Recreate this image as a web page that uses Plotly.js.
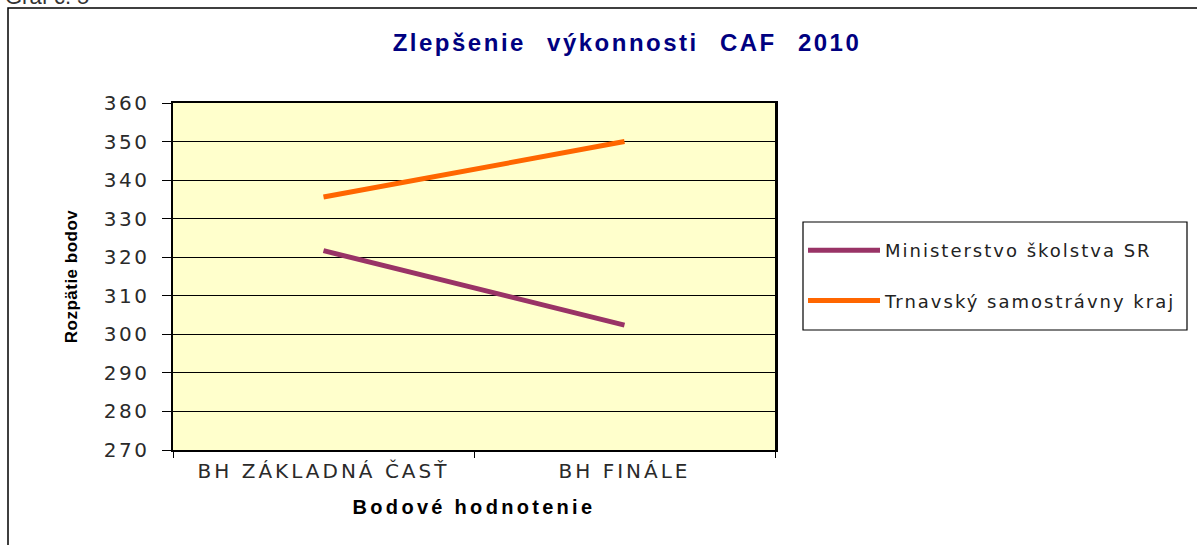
<!DOCTYPE html>
<html>
<head>
<meta charset="utf-8">
<script src="https://cdn.plot.ly/plotly-3.0.1.min.js"></script>
<style>
  html, body { margin: 0; padding: 0; background: #fff; overflow: hidden; }
  #chart { width: 1197px; height: 545px; }
  text.gtitle { letter-spacing: 2.5px; word-spacing: 12px; }
  g.xtick text { letter-spacing: 3px; }
  g.ytick text { letter-spacing: 2.5px; }
  g.g-xtitle text { letter-spacing: 3.3px; word-spacing: 0px; }
  g.g-ytitle text { letter-spacing: 0.5px; }
  text.legendtext { letter-spacing: 2px; }
</style>
</head>
<body>
<div id="chart"></div>
<script>
// ---- data ----
const categories = ["BH ZÁKLADNÁ ČASŤ", "BH FINÁLE"];
const seriesNames = ["Ministerstvo školstva SR", "Trnavský samostrávny kraj"];
const ministerstvo = [321.7, 302.4];
const trnava = [335.6, 350];
const yTickValues = [270, 280, 290, 300, 310, 320, 330, 340, 350, 360];

// ---- geometry helpers ----
const W = 1197, H = 545;
const M = { l: 173, r: 1197 - 775, t: 103, b: 545 - 450 };
const PW = W - M.l - M.r, PH = H - M.t - M.b;
const px = x => (x - M.l) / PW;
const py = y => (H - M.b - y) / PH;

const traces = [
  { x: categories, y: ministerstvo, name: seriesNames[0], type: 'scatter', mode: 'lines',
    line: { color: '#993366', width: 5 }, legendgroup: 'a' },
  { x: categories, y: trnava, name: seriesNames[1], type: 'scatter', mode: 'lines',
    line: { color: '#FF6600', width: 5 }, legendgroup: 'b' }
];

const layout = {
  width: W, height: H,
  margin: M,
  paper_bgcolor: '#ffffff',
  plot_bgcolor: '#FFFFCC',
  showlegend: true,
  title: {
    text: 'Zlepšenie výkonnosti CAF 2010',
    font: { family: 'Liberation Sans, Arial', size: 24, color: '#000080', weight: 'bold' },
    xref: 'container', yref: 'container',
    x: 627 / W, y: 1 - 43 / H, xanchor: 'center', yanchor: 'middle'
  },
  xaxis: {
    type: 'category',
    range: [-0.5, 1.5],
    tickson: 'boundaries',
    ticks: 'outside', ticklen: 6, tickwidth: 1, tickcolor: '#000',
    showline: true, linecolor: '#000', linewidth: 2, mirror: true,
    showgrid: false, zeroline: false,
    tickfont: { family: 'DejaVu Sans', size: 20, color: '#2a2a2a' },
    ticklabelstandoff: 2,
    title: { text: 'Bodové hodnotenie', standoff: 18,
      font: { family: 'Liberation Sans, Arial', size: 20, color: '#000', weight: 'bold' } },
    fixedrange: true
  },
  yaxis: {
    range: [270, 360],
    tickvals: yTickValues,
    ticktext: yTickValues.map(String),
    ticks: 'outside', ticklen: 9, tickwidth: 1, tickcolor: '#000',
    showline: true, linecolor: '#000', linewidth: 2.5, mirror: true,
    showgrid: true, gridcolor: '#000', gridwidth: 1,
    zeroline: false,
    tickfont: { family: 'DejaVu Sans', size: 20, color: '#2a2a2a' },
    ticklabelstandoff: 8,
    title: { text: 'Rozpätie bodov', standoff: 22,
      font: { family: 'Liberation Sans, Arial', size: 17, color: '#000', weight: 'bold' } },
    fixedrange: true
  },
  legend: {
    x: px(803), y: py(232), xanchor: 'left', yanchor: 'top',
    xref: 'paper', yref: 'paper',
    bgcolor: 'rgba(0,0,0,0)', borderwidth: 0,
    font: { family: 'DejaVu Sans', size: 18, color: '#222' },
    traceorder: 'grouped', tracegroupgap: 24,
    itemwidth: 72
  },
  shapes: [
    { type: 'rect', xref: 'paper', yref: 'paper',
      x0: px(8), x1: px(1210), y0: py(560), y1: py(8),
      line: { color: '#000', width: 1.5 }, fillcolor: 'rgba(0,0,0,0)', layer: 'below' },
    { type: 'rect', xref: 'paper', yref: 'paper',
      x0: px(803), x1: px(1187), y0: py(330), y1: py(222),
      line: { color: '#000', width: 1.2 }, fillcolor: '#ffffff', layer: 'below' }
  ],
  annotations: [
    { text: 'Graf č. 5', xref: 'paper', yref: 'paper', x: px(3), y: py(11),
      xanchor: 'left', yanchor: 'bottom', showarrow: false,
      font: { family: 'Liberation Sans, Arial', size: 22, color: '#333' } }
  ]
};

Plotly.newPlot('chart', traces, layout, { displayModeBar: false, staticPlot: true });
</script>
</body>
</html>
